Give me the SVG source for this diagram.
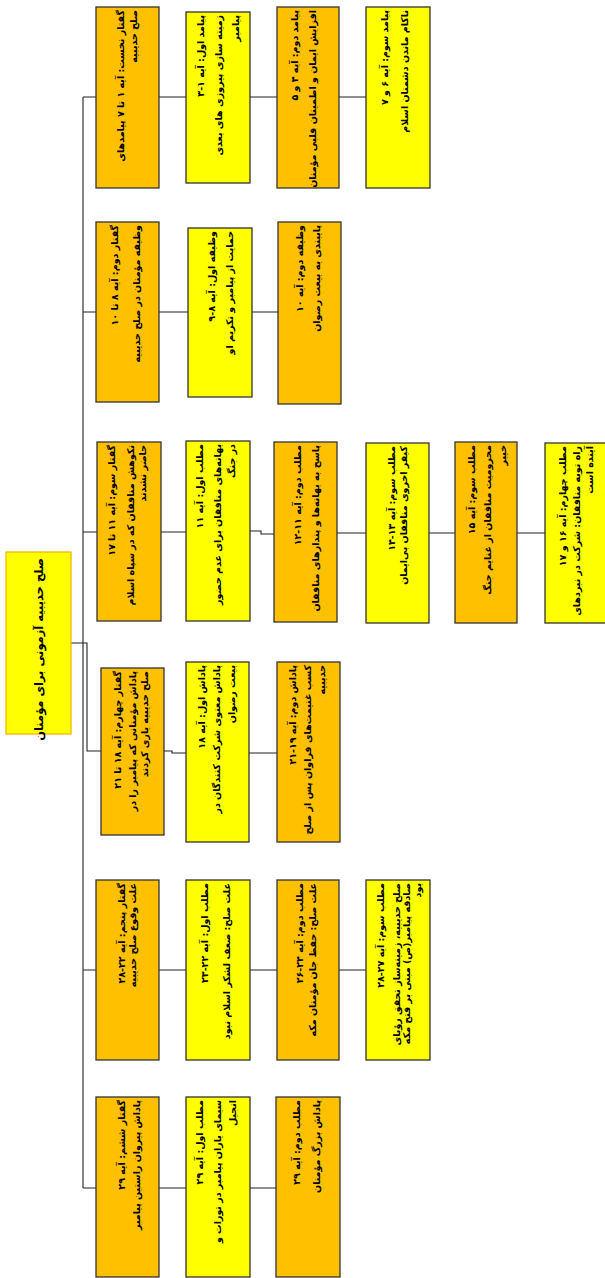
<svg xmlns="http://www.w3.org/2000/svg" width="605" height="1278" viewBox="0 0 605 1278">
<style>
.o{fill:#FFC000;stroke:#333;stroke-width:1.3}
.y{fill:#FFFF00;stroke:#333;stroke-width:1.3}
.r{fill:#FFFF00;stroke:#F2B800;stroke-width:1.3}
.t{font-family:"DejaVu Sans",sans-serif;font-size:9.5px;font-weight:bold;fill:#000;direction:rtl;text-anchor:start}
.rt{font-family:"DejaVu Sans",sans-serif;font-size:11.5px;font-weight:bold;fill:#000;direction:rtl;text-anchor:start}
.c{fill:none;stroke:#222;stroke-width:1.1}
</style>
<rect width="605" height="1278" fill="#fff"/>
<g id="connectors">
<path class="c" d="M83,97V1188M83,97H96M83,312H96M83,532H97M83,970H96M83,1188H96M71,643H87V751H101"/>
<path class="c" d="M159,97H186M250,97H277M339,97H366"/>
<path class="c" d="M159,312H188M252,312H278"/>
<path class="c" d="M161,532H186M250,531H261V534H274M337,533H366M429,533H455M517,533H545"/>
<path class="c" d="M164,751H172V753H186M249,753H277"/>
<path class="c" d="M159,970H186M250,970H277M339,970H366"/>
<path class="c" d="M159,1188H186M250,1188H276"/>
</g>
<g id="root"><rect class="r" x="6" y="552" width="65" height="182"/>
<text class="rt" transform="translate(42.5,558) rotate(-90)">صلح حدیبیه آزمونی برای مؤمنان</text></g>

<g id="r1a"><rect class="o" x="96" y="7" width="63" height="181"/>
<text class="t" transform="translate(124,10) rotate(-90)">گفتار نخست: آیه ۱ تا ۷ پیامدهای</text>
<text class="t" transform="translate(137,10) rotate(-90)">صلح حدیبیه</text></g>
<g id="r1b"><rect class="y" x="186" y="12" width="64" height="171"/>
<text class="t" transform="translate(204,15) rotate(-90)">پیامد اول: آیه ۱-۳</text>
<text class="t" transform="translate(222,15) rotate(-90)">زمینه سازی پیروزی های بعدی</text>
<text class="t" transform="translate(239,15) rotate(-90)">پیامبر</text></g>
<g id="r1c"><rect class="o" x="277" y="7" width="62" height="181"/>
<text class="t" transform="translate(298,10) rotate(-90)">پیامد دوم: آیه ۴ و ۵</text>
<text class="t" transform="translate(316,10) rotate(-90)">افزایش ایمان و اطمینان قلبی مؤمنان</text></g>
<g id="r1d"><rect class="y" x="366" y="7" width="64" height="181"/>
<text class="t" transform="translate(388,10) rotate(-90)">پیامد سوم: آیه ۶ و ۷</text>
<text class="t" transform="translate(408,10) rotate(-90)">ناکام ماندن دشمنان اسلام</text></g>

<g id="r2a"><rect class="o" x="96" y="222" width="63" height="180"/>
<text class="t" transform="translate(118,225) rotate(-90)">گفتار دوم: آیه ۸ تا ۱۰</text>
<text class="t" transform="translate(140,225) rotate(-90)">وظیفه مؤمنان در صلح حدیبیه</text></g>
<g id="r2b"><rect class="y" x="188" y="228" width="64" height="169"/>
<text class="t" transform="translate(215,231) rotate(-90)">وظیفه اول: آیه ۸-۹</text>
<text class="t" transform="translate(233,231) rotate(-90)">حمایت از پیامبر و تکریم او</text></g>
<g id="r2c"><rect class="o" x="278" y="222" width="63" height="182"/>
<text class="t" transform="translate(303,225) rotate(-90)">وظیفه دوم: آیه ۱۰</text>
<text class="t" transform="translate(320,225) rotate(-90)">پایبندی به بیعت رضوان</text></g>

<g id="r3a"><rect class="o" x="97" y="442" width="64" height="179"/>
<text class="t" transform="translate(115,445) rotate(-90)">گفتار سوم: آیه ۱۱ تا ۱۷</text>
<text class="t" transform="translate(134,445) rotate(-90)">نکوهش منافقان که در سپاه اسلام</text>
<text class="t" transform="translate(146,445) rotate(-90)">حاضر نشدند</text></g>
<g id="r3b"><rect class="y" x="186" y="441" width="64" height="180"/>
<text class="t" transform="translate(203,444) rotate(-90)">مطلب اول: آیه ۱۱</text>
<text class="t" transform="translate(221,444) rotate(-90)">بهانه‌های منافقان برای عدم حضور</text>
<text class="t" transform="translate(235,444) rotate(-90)">در جنگ</text></g>
<g id="r3c"><rect class="o" x="274" y="442" width="63" height="180"/>
<text class="t" transform="translate(301,445) rotate(-90)">مطلب دوم: آیه ۱۱-۱۲</text>
<text class="t" transform="translate(319,445) rotate(-90)">پاسخ به بهانه‌ها و پندارهای منافقان</text></g>
<g id="r3d"><rect class="y" x="366" y="443" width="63" height="180"/>
<text class="t" transform="translate(395,446) rotate(-90)">مطلب سوم: آیه ۱۳-۱۴</text>
<text class="t" transform="translate(407,446) rotate(-90)">کیفر اخروی منافقان بی‌ایمان</text></g>
<g id="r3e"><rect class="o" x="455" y="442" width="62" height="181"/>
<text class="t" transform="translate(475,445) rotate(-90)">مطلب سوم: آیه ۱۵</text>
<text class="t" transform="translate(491,445) rotate(-90)">محرومیت منافقان از غنایم جنگ</text>
<text class="t" transform="translate(506,445) rotate(-90)">خیبر</text></g>
<g id="r3f"><rect class="y" x="545" y="443" width="64" height="180"/>
<text class="t" transform="translate(566,446) rotate(-90)">مطلب چهارم: آیه ۱۶ و ۱۷</text>
<text class="t" transform="translate(580,446) rotate(-90)">راه توبه منافقان: شرکت در نبردهای</text>
<text class="t" transform="translate(593,446) rotate(-90)">آینده است</text></g>

<g id="r4a"><rect class="o" x="101" y="668" width="63" height="167"/>
<text class="t" transform="translate(121,671) rotate(-90)">گفتار چهارم: آیه ۱۸ تا ۲۱</text>
<text class="t" transform="translate(136,671) rotate(-90)">پاداش مؤمنانی که پیامبر را در</text>
<text class="t" transform="translate(148,671) rotate(-90)">صلح حدیبیه یاری کردند</text></g>
<g id="r4b"><rect class="y" x="186" y="662" width="63" height="180"/>
<text class="t" transform="translate(205,665) rotate(-90)">پاداش اول: آیه ۱۸</text>
<text class="t" transform="translate(220,665) rotate(-90)">پاداش معنوی شرکت کنندگان در</text>
<text class="t" transform="translate(235,665) rotate(-90)">بیعت رضوان</text></g>
<g id="r4c"><rect class="o" x="277" y="662" width="63" height="180"/>
<text class="t" transform="translate(296,665) rotate(-90)">پاداش دوم: آیه ۱۹-۲۱</text>
<text class="t" transform="translate(311,665) rotate(-90)">کسب غنیمت‌های فراوان پس از صلح</text>
<text class="t" transform="translate(325,665) rotate(-90)">حدیبیه</text></g>

<g id="r5a"><rect class="o" x="96" y="880" width="63" height="180"/>
<text class="t" transform="translate(125,883) rotate(-90)">گفتار پنجم: آیه ۲۲-۲۸</text>
<text class="t" transform="translate(136,883) rotate(-90)">علت وقوع صلح حدیبیه</text></g>
<g id="r5b"><rect class="y" x="186" y="880" width="64" height="180"/>
<text class="t" transform="translate(208,883) rotate(-90)">مطلب اول: آیه ۲۲-۲۳</text>
<text class="t" transform="translate(230,883) rotate(-90)">علت صلح: ضعف لشکر اسلام نبود</text></g>
<g id="r5c"><rect class="o" x="277" y="880" width="62" height="180"/>
<text class="t" transform="translate(303,883) rotate(-90)">مطلب دوم: آیه ۲۴-۲۶</text>
<text class="t" transform="translate(316,883) rotate(-90)">علت صلح: حفظ جان مؤمنان مکه</text></g>
<g id="r5d"><rect class="y" x="366" y="880" width="64" height="180"/>
<text class="t" transform="translate(384,883) rotate(-90)">مطلب سوم: آیه ۲۷-۲۸</text>
<text class="t" transform="translate(400,883) rotate(-90)">صلح حدیبیه، زمینه‌ساز تحقق رؤیای</text>
<text class="t" transform="translate(410,883) rotate(-90)">صادقه پیامبر(ص) مبنی بر فتح مکه</text>
<text class="t" transform="translate(421,883) rotate(-90)">بود</text></g>

<g id="r6a"><rect class="o" x="96" y="1097" width="63" height="180"/>
<text class="t" transform="translate(125,1100) rotate(-90)">گفتار ششم: آیه ۲۹</text>
<text class="t" transform="translate(140,1100) rotate(-90)">پاداش پیروان راستین پیامبر</text></g>
<g id="r6b"><rect class="y" x="186" y="1097" width="64" height="180"/>
<text class="t" transform="translate(203,1100) rotate(-90)">مطلب اول: آیه ۲۹</text>
<text class="t" transform="translate(221,1100) rotate(-90)">سیمای یاران پیامبر در تورات و</text>
<text class="t" transform="translate(236,1100) rotate(-90)">انجیل</text></g>
<g id="r6c"><rect class="o" x="276" y="1097" width="64" height="180"/>
<text class="t" transform="translate(300,1100) rotate(-90)">مطلب دوم: آیه ۲۹</text>
<text class="t" transform="translate(320,1100) rotate(-90)">پاداش بزرگ مؤمنان</text></g>
</svg>
